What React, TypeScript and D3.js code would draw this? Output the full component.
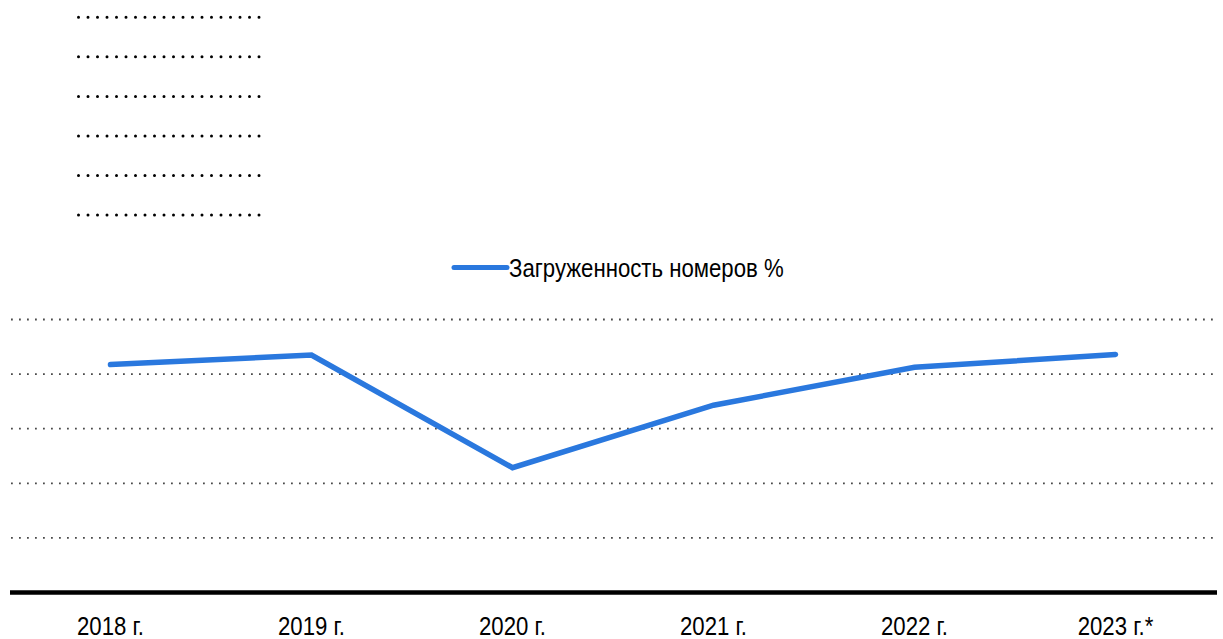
import React from "react";
import * as d3 from "d3";

const categories = ["2018 г.", "2019 г.", "2020 г.", "2021 г.", "2022 г.", "2023 г.*"];
const occupancy = [83.5, 87.0, 45.7, 68.6, 82.5, 87.2];
const yTicks = [0, 20, 40, 60, 80, 100];
const seriesName = "Загруженность номеров %";
const placeholderRows = [0, 1, 2, 3, 4, 5];

const W = 1223;
const H = 639;
const FONT = "'Liberation Sans', Arial, sans-serif";
const BLUE = "#2a78de";
const NARROW = 0.87;

export default function App() {
  const x = d3.scaleBand<string>().domain(categories).range([10, 1216]);
  const y = d3.scaleLinear().domain([0, 100]).range([592.5, 319.5]);
  const cx = (c: string) => (x(c) as number) + x.bandwidth() / 2;
  const line = d3
    .line<number>()
    .x((_, i) => cx(categories[i]))
    .y((d) => y(d));
  const rowY = d3.scaleLinear().domain([0, 5]).range([17.3, 215]);

  return (
    <svg
      width={W}
      height={H}
      style={{ position: "absolute", left: 0, top: 0, display: "block", background: "#fff" }}
    >
      {placeholderRows.map((r) => (
        <line
          key={r}
          x1={78.5}
          x2={262}
          y1={rowY(r)}
          y2={rowY(r)}
          stroke="#000"
          strokeWidth={3}
          strokeLinecap="round"
          strokeDasharray="0 9.5"
        />
      ))}

      <g>
        <line x1={454} x2={507} y1={267.5} y2={267.5} stroke={BLUE} strokeWidth={5} strokeLinecap="round" />
        <text
          transform={`translate(509,276.5) scale(${NARROW},1)`}
          fontFamily={FONT}
          fontSize={25.5}
          fill="#000"
        >
          {seriesName}
        </text>
      </g>

      {yTicks
        .filter((t) => t > 0)
        .map((t) => (
          <line
            key={t}
            x1={11}
            x2={1215}
            y1={y(t)}
            y2={y(t)}
            stroke="#4a4a4a"
            strokeWidth={1.8}
            strokeDasharray="1.8 6.2"
          />
        ))}

      <line x1={10} x2={1217} y1={y(0)} y2={y(0)} stroke="#000" strokeWidth={4.5} />

      {categories.map((c) => (
        <text
          key={c}
          transform={`translate(${cx(c)},634.5) scale(${NARROW},1)`}
          textAnchor="middle"
          fontFamily={FONT}
          fontSize={25.5}
          fill="#000"
        >
          {c}
        </text>
      ))}

      <path
        d={line(occupancy) || ""}
        fill="none"
        stroke={BLUE}
        strokeWidth={5.5}
        strokeLinejoin="miter"
        strokeLinecap="round"
      />
    </svg>
  );
}
